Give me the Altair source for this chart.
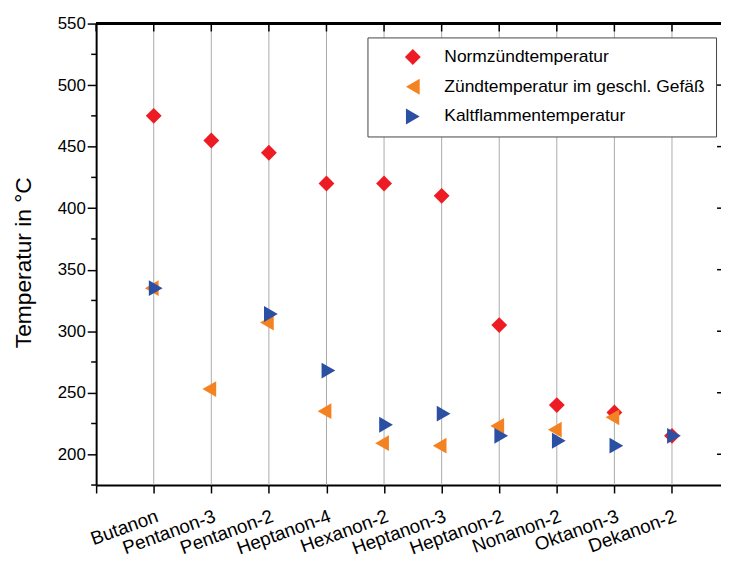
import json
import altair as alt
import pandas as pd

# ---------------- data ----------------
categories = ["Butanon", "Pentanon-3", "Pentanon-2", "Heptanon-4", "Hexanon-2",
              "Heptanon-3", "Heptanon-2", "Nonanon-2", "Oktanon-3", "Dekanon-2"]
series_names = ["Normzündtemperatur", "Zündtemperatur im geschl. Gefäß", "Kaltflammentemperatur"]
norm_temp = [475, 455, 445, 420, 420, 410, 305, 240, 234, 215]
closed_vessel_temp = [335, 253, 307, 235, 209, 207, 223, 220, 230, None]
cold_flame_temp = [335, None, 314, 268, 224, 233, 215, 211, 207, 215]
major_ticks = [200, 250, 300, 350, 400, 450, 500, 550]
minor_ticks = [175, 225, 275, 325, 375, 425, 475, 525]
series_colors = ["#ED1C24", "#F58220", "#2B4FA3"]
series_shapes = ["diamond", "triangle-left", "triangle-right"]

# ---------------- tables ----------------
rows = []
for s, vals in zip(series_names, [norm_temp, closed_vessel_temp, cold_flame_temp]):
    for i, v in enumerate(vals):
        if v is not None:
            rows.append({"series": s, "pos": i + 1, "value": v})
df = pd.DataFrame(rows)
cat_df = pd.DataFrame({"pos": list(range(1, len(categories) + 1))})
tick_df = pd.DataFrame({"pos": list(range(0, len(categories) + 1))})
minor_df = pd.DataFrame({"value": minor_ticks})
major_df = pd.DataFrame({"value": major_ticks})

W, H = 631, 466
XMAX = W / 58.15

label_expr = ("datum.value >= 1 && datum.value <= %d ? %s[datum.value - 1] : ''"
              % (len(categories), json.dumps(categories)))

x_axis = alt.Axis(values=list(range(0, len(categories) + 1)), labelExpr=label_expr,
                  labelAngle=-20, labelAlign="right", labelBaseline="top",
                  labelFontSize=19, labelFont="Liberation Sans", labelColor="black",
                  labelOverlap=False, labelPadding=14, tickSize=8, tickWidth=1.5,
                  tickColor="black", domainColor="black", domainWidth=2, grid=False,
                  title=None)
y_axis = alt.Axis(values=major_ticks, tickSize=9, tickWidth=1.5, tickColor="black",
                  domainColor="black", domainWidth=2, grid=False,
                  labelFontSize=17, labelFont="Liberation Sans", labelColor="black",
                  labelPadding=2, title="Temperatur in °C", titleFontSize=23,
                  titleFont="Liberation Sans", titleFontWeight="normal",
                  titleColor="black", titlePadding=22, titleY=241)

X = alt.X("pos:Q", scale=alt.Scale(domain=[0, XMAX], nice=False, zero=False), axis=x_axis)
Y = alt.Y("value:Q", scale=alt.Scale(domain=[175, 550], nice=False, zero=False), axis=y_axis)

color_scale = alt.Scale(domain=series_names, range=series_colors)
shape_scale = alt.Scale(domain=series_names, range=series_shapes)
legend = alt.Legend(title=None, orient="none", legendX=274, legendY=14,
                    strokeColor="#444444", fillColor="white", padding=11,
                    symbolOffset=26, labelOffset=23, rowPadding=11,
                    labelFontSize=17.6, labelFont="Liberation Sans", labelColor="black",
                    labelLimit=500, symbolSize=256, symbolOpacity=1, symbolStrokeWidth=0)

grid = alt.Chart(cat_df).mark_rule(color="#AAAAAA", strokeWidth=1).encode(
    x=X, y=alt.value(0), y2=alt.value(H))
top_line = alt.Chart(cat_df).mark_rule(color="black", strokeWidth=2).encode(
    x=alt.value(0), x2=alt.value(W), y=alt.value(0))
top_ticks = alt.Chart(tick_df).mark_rule(color="black", strokeWidth=1.5).encode(
    x=X, y=alt.value(0), y2=alt.value(8))
minor = alt.Chart(minor_df).mark_rule(color="black", strokeWidth=1.5).encode(
    y=Y, x=alt.value(-5), x2=alt.value(0))
right_ticks = alt.Chart(major_df).mark_rule(color="black", strokeWidth=1.5).encode(
    y=Y, x=alt.value(W - 4), x2=alt.value(W))

offsets = [0, -2, 2]
point_layers = []
for s, off in zip(series_names, offsets):
    point_layers.append(
        alt.Chart(df).transform_filter(alt.datum.series == s)
        .mark_point(filled=True, opacity=1, size=256, xOffset=off, strokeWidth=0)
        .encode(x=X, y=Y,
                color=alt.Color("series:N", scale=color_scale, legend=legend),
                shape=alt.Shape("series:N", scale=shape_scale, legend=legend))
    )

chart = alt.layer(grid, top_line, top_ticks, minor, right_ticks, *point_layers).properties(
    width=W, height=H,
    autosize=alt.AutoSizeParams(type="none"),
    padding={"left": 89, "top": 13, "right": 0, "bottom": 75}
).configure_view(stroke=None).configure(background="white")

chart.save("out.html", embed_options={"renderer": "svg", "actions": False})
